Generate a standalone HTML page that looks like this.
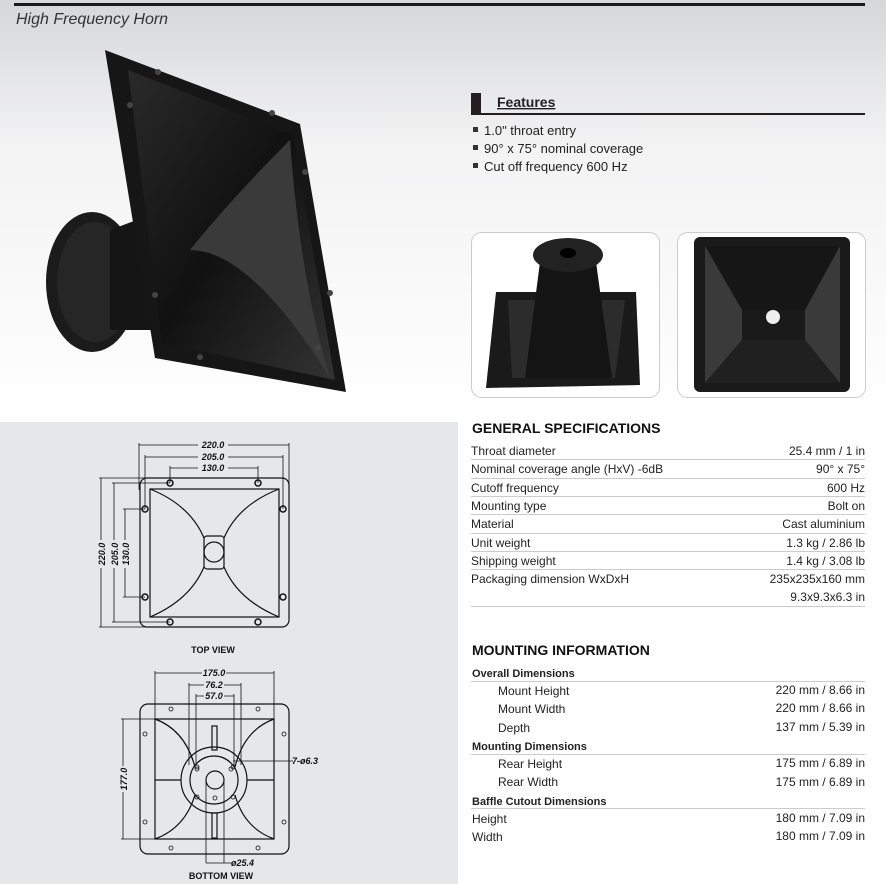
<!DOCTYPE html>
<html><head><meta charset="utf-8"><style>
html,body{margin:0;padding:0;}
body{width:886px;height:884px;position:relative;background:#fff;overflow:hidden;font-family:"Liberation Sans",Arial,sans-serif;}
svg{position:absolute;left:0;top:0;}
.t{font-family:"Liberation Sans",Arial,sans-serif;font-size:12px;fill:#222;}
.b{font-weight:bold;}
.d{font-family:"Liberation Sans",Arial,sans-serif;font-size:9px;font-style:italic;fill:#111;font-weight:bold;}
</style></head><body>
<svg width="886" height="884" viewBox="0 0 886 884">
<defs>
<linearGradient id="bg" x1="0" y1="0" x2="0" y2="1">
<stop offset="0" stop-color="#d6d7d9"/><stop offset="0.35" stop-color="#f3f3f4"/><stop offset="1" stop-color="#ffffff"/>
</linearGradient>
<linearGradient id="hn" x1="0" y1="0" x2="1" y2="1">
<stop offset="0" stop-color="#2a2a2a"/><stop offset="0.5" stop-color="#111"/><stop offset="1" stop-color="#333"/>
</linearGradient>
</defs>
<rect x="0" y="0" width="886" height="420" fill="url(#bg)"/>
<rect x="14" y="3" width="851" height="3" fill="#1a1a1a"/>
<text x="16" y="24" style="font-family:'Liberation Sans';font-size:16px;font-style:italic;fill:#333">High Frequency  Horn</text>

<!-- main horn photo -->
<ellipse cx="92" cy="282" rx="46" ry="70" fill="#1b1b1b"/>
<ellipse cx="95" cy="282" rx="38" ry="60" fill="#262626"/>
<polygon points="110,230 150,215 160,330 110,330" fill="#151515"/>
<polygon points="105,50 300,124 346,392 155,358" fill="#161616"/>
<polygon points="128,70 293,135 335,380 162,343" fill="url(#hn)"/>
<path d="M290,140 Q230,200 190,250 Q250,250 330,378 Q300,280 290,140Z" fill="#3a3a3a"/>
<g fill="#444"><circle cx="158" cy="72" r="3"/><circle cx="130" cy="105" r="3"/><circle cx="272" cy="113" r="3"/><circle cx="305" cy="172" r="3"/><circle cx="155" cy="295" r="3"/><circle cx="200" cy="357" r="3"/><circle cx="318" cy="348" r="3"/><circle cx="330" cy="293" r="3"/></g>

<!-- features -->
<rect x="471" y="93" width="10" height="22" fill="#231f20"/>
<rect x="471" y="113" width="394" height="2" fill="#231f20"/>
<text x="497" y="107" class="t b" style="font-size:14px;text-decoration:underline">Features</text>
<g class="t" style="font-size:13px">
<rect x="473" y="127" width="5" height="5" fill="#333"/><text x="484" y="135">1.0" throat entry</text>
<rect x="473" y="145" width="5" height="5" fill="#333"/><text x="484" y="153">90° x 75° nominal coverage</text>
<rect x="473" y="163" width="5" height="5" fill="#333"/><text x="484" y="171">Cut off frequency 600 Hz</text>
</g>

<!-- small photos -->
<rect x="471.5" y="232.5" width="188" height="165" rx="10" fill="#fff" stroke="#ccc"/>
<rect x="677.5" y="232.5" width="188" height="165" rx="10" fill="#fff" stroke="#ccc"/>
<polygon points="496,292 636,292 640,385 486,388" fill="#1a1a1a"/>
<polygon points="508,300 625,300 615,378 512,378" fill="#2c2c2c"/>
<polygon points="540,262 596,262 612,378 525,378" fill="#141414"/>
<ellipse cx="568" cy="255" rx="35" ry="17" fill="#222"/>
<ellipse cx="568" cy="253" rx="8" ry="5" fill="#000"/>
<rect x="694" y="237" width="156" height="155" rx="6" fill="#1a1a1a"/>
<polygon points="705,246 840,246 805,310 742,310" fill="#161616"/>
<polygon points="705,246 742,310 742,340 705,383" fill="#3a3a3a"/>
<polygon points="840,246 805,310 805,340 840,383" fill="#3a3a3a"/>
<polygon points="705,383 742,340 805,340 840,383" fill="#202020"/>
<circle cx="773" cy="317" r="7" fill="#eee"/>

<!-- general specs -->
<text x="472" y="433" class="t b" style="font-size:14px;fill:#111">GENERAL SPECIFICATIONS</text>
<g stroke="#ccc" stroke-width="1">
<line x1="471" y1="459.5" x2="865" y2="459.5"/><line x1="471" y1="478.5" x2="865" y2="478.5"/><line x1="471" y1="496.5" x2="865" y2="496.5"/><line x1="471" y1="514.5" x2="865" y2="514.5"/><line x1="471" y1="533.5" x2="865" y2="533.5"/><line x1="471" y1="551.5" x2="865" y2="551.5"/><line x1="471" y1="569.5" x2="865" y2="569.5"/><line x1="471" y1="606.5" x2="865" y2="606.5"/>
</g>
<g class="t">
<text x="471" y="455">Throat diameter</text><text x="865" y="455" text-anchor="end">25.4 mm / 1 in</text>
<text x="471" y="473">Nominal coverage angle (HxV) -6dB</text><text x="865" y="473" text-anchor="end">90° x 75°</text>
<text x="471" y="492">Cutoff frequency</text><text x="865" y="492" text-anchor="end">600 Hz</text>
<text x="471" y="510">Mounting type</text><text x="865" y="510" text-anchor="end">Bolt on</text>
<text x="471" y="528">Material</text><text x="865" y="528" text-anchor="end">Cast aluminium</text>
<text x="471" y="547">Unit weight</text><text x="865" y="547" text-anchor="end">1.3 kg / 2.86 lb</text>
<text x="471" y="565">Shipping weight</text><text x="865" y="565" text-anchor="end">1.4 kg / 3.08 lb</text>
<text x="471" y="583">Packaging dimension  WxDxH</text><text x="865" y="583" text-anchor="end">235x235x160 mm</text>
<text x="865" y="601" text-anchor="end">9.3x9.3x6.3 in</text>
</g>

<!-- mounting info -->
<text x="472" y="655" class="t b" style="font-size:14px;fill:#111">MOUNTING INFORMATION</text>
<g stroke="#ccc"><line x1="471" y1="681.5" x2="865" y2="681.5"/><line x1="471" y1="754.5" x2="865" y2="754.5"/><line x1="471" y1="808.5" x2="865" y2="808.5"/></g>
<g class="t">
<text x="472" y="677" class="b" style="font-size:11px">Overall Dimensions</text>
<text x="498" y="695">Mount Height</text><text x="865" y="694" text-anchor="end">220 mm / 8.66 in</text>
<text x="498" y="713">Mount Width</text><text x="865" y="712" text-anchor="end">220 mm / 8.66 in</text>
<text x="498" y="732">Depth</text><text x="865" y="731" text-anchor="end">137 mm / 5.39 in</text>
<text x="472" y="750" class="b" style="font-size:11px">Mounting Dimensions</text>
<text x="498" y="768">Rear Height</text><text x="865" y="767" text-anchor="end">175 mm / 6.89 in</text>
<text x="498" y="786">Rear Width</text><text x="865" y="786" text-anchor="end">175 mm / 6.89 in</text>
<text x="472" y="805" class="b" style="font-size:11px">Baffle Cutout Dimensions</text>
<text x="472" y="823">Height</text><text x="865" y="822" text-anchor="end">180 mm / 7.09 in</text>
<text x="472" y="841">Width</text><text x="865" y="840" text-anchor="end">180 mm / 7.09 in</text>
</g>

<!-- drawing panel -->
<rect x="0" y="422" width="458" height="462" fill="#e6e7e9"/>
<g fill="none" stroke="#111" stroke-width="1.2">
<!-- top view -->
<rect x="140" y="478" width="149" height="149" rx="7"/>
<rect x="150" y="489" width="129" height="128"/>
<rect x="204" y="536" width="20" height="33" rx="3"/>
<circle cx="214" cy="552" r="10"/>
<path d="M150,489 Q190,505 204,538 M279,489 Q238,505 224,538 M150,617 Q190,600 204,567 M279,617 Q238,600 224,567"/>
<g stroke-width="0.8">
<line x1="139" y1="445" x2="289" y2="445"/><line x1="139" y1="443" x2="139" y2="490"/><line x1="289" y1="443" x2="289" y2="490"/>
<line x1="145" y1="457" x2="283" y2="457"/><line x1="145" y1="455" x2="145" y2="509"/><line x1="283" y1="455" x2="283" y2="509"/>
<line x1="170" y1="468" x2="258" y2="468"/><line x1="170" y1="466" x2="170" y2="483"/><line x1="258" y1="466" x2="258" y2="483"/>
<line x1="101" y1="478" x2="101" y2="627"/><line x1="99" y1="478" x2="145" y2="478"/><line x1="99" y1="627" x2="145" y2="627"/>
<line x1="114" y1="483" x2="114" y2="622"/><line x1="112" y1="483" x2="170" y2="483"/><line x1="112" y1="622" x2="170" y2="622"/>
<line x1="125" y1="509" x2="125" y2="597"/><line x1="123" y1="509" x2="145" y2="509"/><line x1="123" y1="597" x2="145" y2="597"/>
</g>
<g stroke-width="1.5"><circle cx="170" cy="483" r="3"/><circle cx="258" cy="483" r="3"/><circle cx="145" cy="509" r="3"/><circle cx="283" cy="509" r="3"/><circle cx="145" cy="597" r="3"/><circle cx="283" cy="597" r="3"/><circle cx="170" cy="622" r="3"/><circle cx="258" cy="622" r="3"/></g>
<!-- bottom view -->
<rect x="140" y="704" width="149" height="150" rx="8"/>
<rect x="155" y="719" width="119" height="120"/>
<path d="M155,719 Q185,730 195,767 M274,719 Q244,730 235,767 M155,839 Q185,828 195,795 M274,839 Q244,828 235,795"/>
<circle cx="214" cy="780" r="33"/><circle cx="214" cy="780" r="24"/><circle cx="215" cy="780" r="9"/>
<rect x="212" y="726" width="5" height="24"/><rect x="212" y="813" width="5" height="25"/>
<line x1="155" y1="780" x2="181" y2="780"/><line x1="247" y1="780" x2="274" y2="780"/>
<g stroke-width="0.8">
<circle cx="171" cy="709" r="2"/><circle cx="258" cy="709" r="2"/><circle cx="145" cy="734" r="2"/><circle cx="284" cy="734" r="2"/><circle cx="145" cy="822" r="2"/><circle cx="284" cy="822" r="2"/><circle cx="171" cy="848" r="2"/><circle cx="258" cy="848" r="2"/>
<circle cx="197" cy="767" r="2"/><circle cx="233" cy="767" r="2"/><circle cx="197" cy="769" r="2"/><circle cx="231" cy="769" r="2"/><circle cx="197" cy="797" r="2"/><circle cx="215" cy="798" r="2"/><circle cx="233" cy="797" r="2"/>
<line x1="155" y1="673" x2="274" y2="673"/><line x1="155" y1="671" x2="155" y2="719"/><line x1="274" y1="671" x2="274" y2="719"/>
<line x1="189" y1="685" x2="241" y2="685"/><line x1="189" y1="683" x2="189" y2="765"/><line x1="241" y1="683" x2="241" y2="765"/>
<line x1="196" y1="696" x2="234" y2="696"/><line x1="196" y1="694" x2="196" y2="765"/><line x1="234" y1="694" x2="234" y2="765"/>
<line x1="123" y1="719" x2="123" y2="839"/><line x1="121" y1="719" x2="155" y2="719"/><line x1="121" y1="839" x2="155" y2="839"/>
<line x1="233" y1="761" x2="293" y2="761"/>
<line x1="206" y1="780" x2="206" y2="863"/><line x1="224" y1="780" x2="224" y2="863"/><line x1="206" y1="863" x2="232" y2="863"/>
</g>
</g>
<g class="d">
<rect x="198" y="440" width="30" height="9" fill="#e6e7e9"/><text x="213" y="448" text-anchor="middle">220.0</text>
<rect x="198" y="452" width="30" height="9" fill="#e6e7e9"/><text x="213" y="460" text-anchor="middle">205.0</text>
<rect x="198" y="463" width="30" height="9" fill="#e6e7e9"/><text x="213" y="471" text-anchor="middle">130.0</text>
<rect x="96" y="540" width="10" height="28" fill="#e6e7e9"/><text transform="translate(105,554) rotate(-90)" text-anchor="middle">220.0</text>
<rect x="109" y="540" width="10" height="28" fill="#e6e7e9"/><text transform="translate(118,554) rotate(-90)" text-anchor="middle">205.0</text>
<rect x="120" y="540" width="10" height="28" fill="#e6e7e9"/><text transform="translate(129,554) rotate(-90)" text-anchor="middle">130.0</text>
<text x="213" y="653" text-anchor="middle" style="font-style:normal">TOP  VIEW</text>
<rect x="202" y="668" width="24" height="9" fill="#e6e7e9"/><text x="214" y="676" text-anchor="middle">175.0</text>
<rect x="204" y="680" width="20" height="9" fill="#e6e7e9"/><text x="214" y="688" text-anchor="middle">76.2</text>
<rect x="204" y="691" width="20" height="9" fill="#e6e7e9"/><text x="214" y="699" text-anchor="middle">57.0</text>
<rect x="118" y="766" width="10" height="26" fill="#e6e7e9"/><text transform="translate(127,779) rotate(-90)" text-anchor="middle">177.0</text>
<text x="292" y="764">7-ø6.3</text>
<text x="231" y="866">ø25.4</text>
<text x="221" y="879" text-anchor="middle" style="font-style:normal">BOTTOM  VIEW</text>
</g>
</svg>
</body></html>
